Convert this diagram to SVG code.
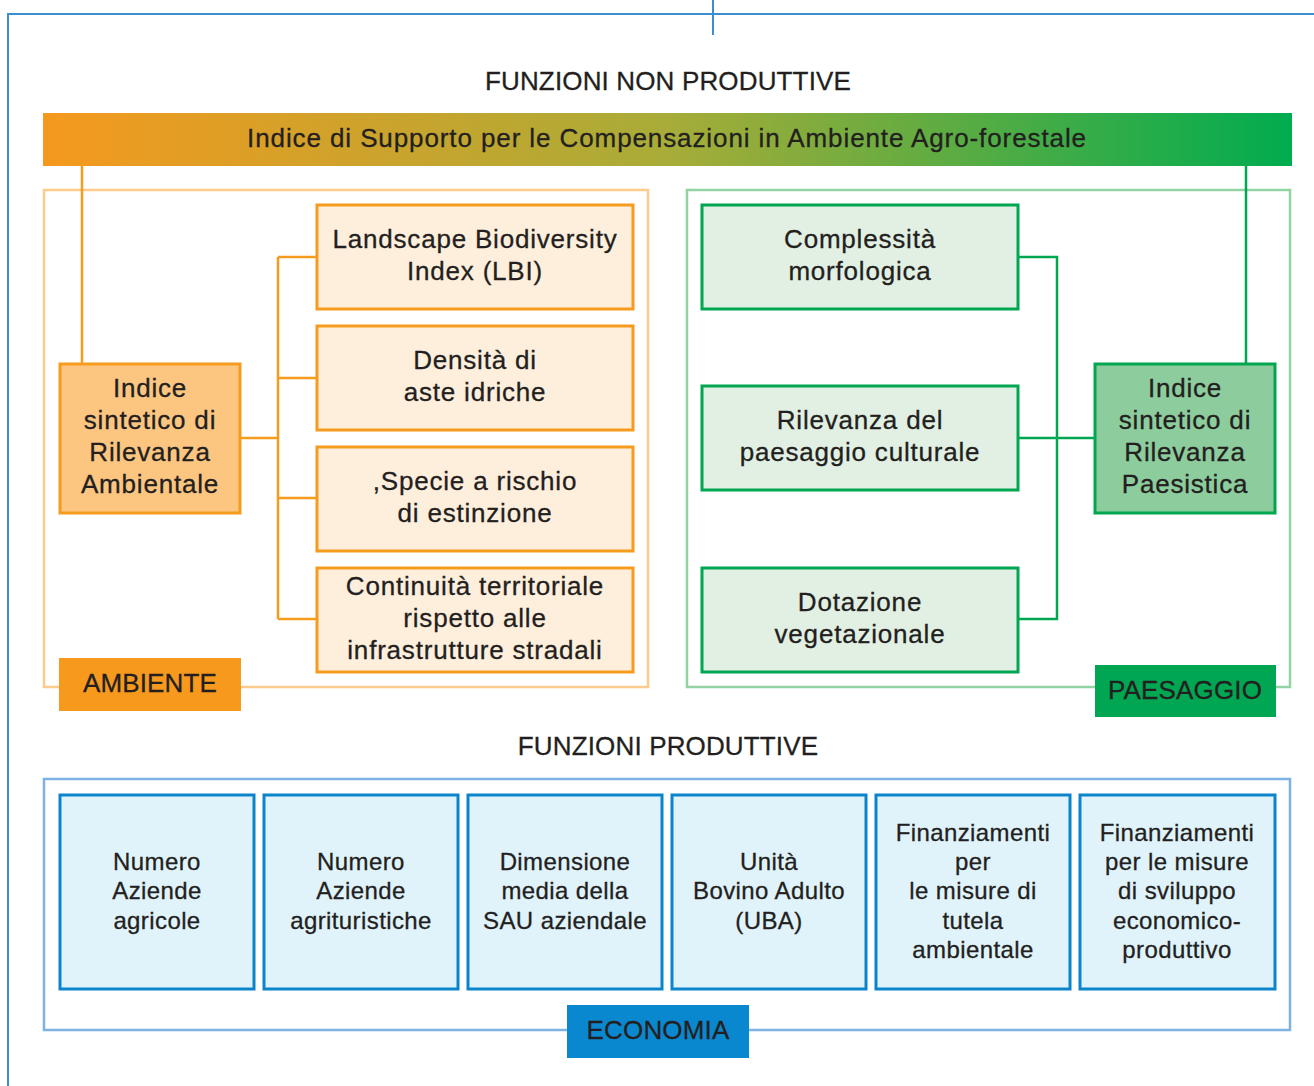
<svg xmlns="http://www.w3.org/2000/svg" width="1314" height="1086" viewBox="0 0 1314 1086">
<defs>
<linearGradient id="bar" x1="0" y1="0" x2="1" y2="0">
<stop offset="0" stop-color="#F5991E"/>
<stop offset="0.5" stop-color="#A8AC38"/>
<stop offset="1" stop-color="#00AC4F"/>
</linearGradient>
<style>
text{font-family:"Liberation Sans",Arial,sans-serif;fill:#231F20;text-anchor:middle;stroke:#231F20;stroke-width:0.3}
.t{font-size:26px;letter-spacing:0.8px}
.h{font-size:26px;letter-spacing:0.15px}
.e{font-size:24px;letter-spacing:0.4px}
.frame{fill:none;stroke:#3B8FD0;stroke-width:2}
.cont-o{fill:none;stroke:#FDCB8C;stroke-width:2.5}
.cont-g{fill:none;stroke:#92D2A3;stroke-width:2.5}
.cont-b{fill:none;stroke:#7DB2E2;stroke-width:2.5}
.box-o{fill:#FEEEDC;stroke:#F59C1F;stroke-width:3}
.main-o{fill:#FDC680;stroke:#F59C1F;stroke-width:3}
.box-g{fill:#E1F0E3;stroke:#00A650;stroke-width:3}
.main-g{fill:#8DCC9C;stroke:#00A650;stroke-width:3}
.box-b{fill:#E0F3FB;stroke:#0C84C9;stroke-width:3}
.lab-o{fill:#F7991C}
.lab-g{fill:#00A651}
.lab-b{fill:#0A88CF}
.ln-o{fill:none;stroke:#F59C1F;stroke-width:2.5}
.ln-g{fill:none;stroke:#00A650;stroke-width:2.5}
</style>
</defs>
<rect width="1314" height="1086" fill="#FFFFFF"/>
<g id="frame">
<path class="frame" d="M7,14 H1314 M8,13 V1086 M713,0 V35"/>
</g>
<g id="titles">
<text class="h" x="668" y="90">FUNZIONI NON PRODUTTIVE</text>
<text class="h" x="668" y="755">FUNZIONI PRODUTTIVE</text>
</g>
<g id="containers">
<rect class="cont-o" x="44" y="190" width="604" height="497"/>
<rect class="cont-g" x="687" y="190" width="603" height="497"/>
<rect class="cont-b" x="44" y="779" width="1246" height="251"/>
</g>
<g id="connectors">
<path class="ln-o" d="M82,166 V364"/>
<path class="ln-o" d="M240,438 H278 M278,257 V619 M278,257 H317 M278,378 H317 M278,498 H317 M278,619 H317"/>
<path class="ln-g" d="M1246,166 V364"/>
<path class="ln-g" d="M1018,257 H1057 V619 H1018 M1018,438 H1095"/>
</g>
<g id="isc">
<rect x="43" y="113" width="1249" height="53" fill="url(#bar)"/>
<text class="t" x="667" y="147" style="letter-spacing:0.9px">Indice di Supporto per le Compensazioni in Ambiente Agro-forestale</text>
</g>
<g id="isra">
<rect class="main-o" x="60" y="364" width="180" height="149"/>
<text class="t"><tspan x="150" y="397">Indice</tspan><tspan x="150" y="429">sintetico di</tspan><tspan x="150" y="461">Rilevanza</tspan><tspan x="150" y="493">Ambientale</tspan></text>
</g>
<g id="lbi">
<rect class="box-o" x="317" y="205" width="316" height="104"/>
<text class="t"><tspan x="475" y="248">Landscape Biodiversity</tspan><tspan x="475" y="280">Index (LBI)</tspan></text>
</g>
<g id="densita">
<rect class="box-o" x="317" y="326" width="316" height="104"/>
<text class="t"><tspan x="475" y="369">Densità di</tspan><tspan x="475" y="401">aste idriche</tspan></text>
</g>
<g id="specie">
<rect class="box-o" x="317" y="447" width="316" height="104"/>
<text class="t"><tspan x="475" y="490">,Specie a rischio</tspan><tspan x="475" y="522">di estinzione</tspan></text>
</g>
<g id="continuita">
<rect class="box-o" x="317" y="568" width="316" height="104"/>
<text class="t"><tspan x="475" y="595">Continuità territoriale</tspan><tspan x="475" y="627">rispetto alle</tspan><tspan x="475" y="659">infrastrutture stradali</tspan></text>
</g>
<g id="ambiente">
<rect class="lab-o" x="59" y="658" width="182" height="53"/>
<text class="h" x="150" y="692">AMBIENTE</text>
</g>
<g id="complessita">
<rect class="box-g" x="702" y="205" width="316" height="104"/>
<text class="t"><tspan x="860" y="248">Complessità</tspan><tspan x="860" y="280">morfologica</tspan></text>
</g>
<g id="rilevanza">
<rect class="box-g" x="702" y="386" width="316" height="104"/>
<text class="t"><tspan x="860" y="429">Rilevanza del</tspan><tspan x="860" y="461">paesaggio culturale</tspan></text>
</g>
<g id="dotazione">
<rect class="box-g" x="702" y="568" width="316" height="104"/>
<text class="t"><tspan x="860" y="611">Dotazione</tspan><tspan x="860" y="643">vegetazionale</tspan></text>
</g>
<g id="isrp">
<rect class="main-g" x="1095" y="364" width="180" height="149"/>
<text class="t"><tspan x="1185" y="397">Indice</tspan><tspan x="1185" y="429">sintetico di</tspan><tspan x="1185" y="461">Rilevanza</tspan><tspan x="1185" y="493">Paesistica</tspan></text>
</g>
<g id="paesaggio">
<rect class="lab-g" x="1095" y="665" width="181" height="52"/>
<text class="h" x="1185" y="699">PAESAGGIO</text>
</g>
<g id="e1">
<rect class="box-b" x="60" y="795" width="194" height="194"/>
<text class="e"><tspan x="157" y="869.6">Numero</tspan><tspan x="157" y="898.6">Aziende</tspan><tspan x="157" y="928.6">agricole</tspan></text>
</g>
<g id="e2">
<rect class="box-b" x="264" y="795" width="194" height="194"/>
<text class="e"><tspan x="361" y="869.6">Numero</tspan><tspan x="361" y="898.6">Aziende</tspan><tspan x="361" y="928.6">agrituristiche</tspan></text>
</g>
<g id="e3">
<rect class="box-b" x="468" y="795" width="194" height="194"/>
<text class="e"><tspan x="565" y="869.6">Dimensione</tspan><tspan x="565" y="898.6">media della</tspan><tspan x="565" y="928.6">SAU aziendale</tspan></text>
</g>
<g id="e4">
<rect class="box-b" x="672" y="795" width="194" height="194"/>
<text class="e"><tspan x="769" y="869.6">Unità</tspan><tspan x="769" y="898.6">Bovino Adulto</tspan><tspan x="769" y="928.6">(UBA)</tspan></text>
</g>
<g id="e5">
<rect class="box-b" x="876" y="795" width="194" height="194"/>
<text class="e"><tspan x="973" y="840.6">Finanziamenti</tspan><tspan x="973" y="869.6">per</tspan><tspan x="973" y="898.6">le misure di</tspan><tspan x="973" y="928.6">tutela</tspan><tspan x="973" y="957.6">ambientale</tspan></text>
</g>
<g id="e6">
<rect class="box-b" x="1080" y="795" width="195" height="194"/>
<text class="e"><tspan x="1177" y="840.6">Finanziamenti</tspan><tspan x="1177" y="869.6">per le misure</tspan><tspan x="1177" y="898.6">di sviluppo</tspan><tspan x="1177" y="928.6">economico-</tspan><tspan x="1177" y="957.6">produttivo</tspan></text>
</g>
<g id="economia">
<rect class="lab-b" x="567" y="1005" width="182" height="53"/>
<text class="h" x="658" y="1039">ECONOMIA</text>
</g>
</svg>
